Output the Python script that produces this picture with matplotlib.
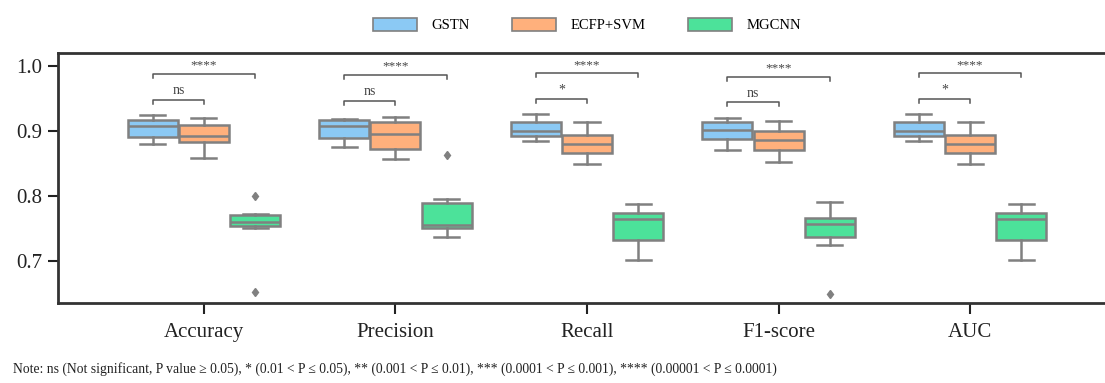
import matplotlib
matplotlib.use("Agg")
import matplotlib.pyplot as plt
from matplotlib.patches import Patch

plt.rcParams['font.family'] = ['Liberation Serif', 'DejaVu Serif']

metrics = ["Accuracy", "Precision", "Recall", "F1-score", "AUC"]
models = ["GSTN", "ECFP+SVM", "MGCNN"]
colors = ["#8BC9F4", "#FFB07C", "#4CE29A"]

# box statistics (one value per metric)
gstn_whislo = [0.880, 0.876, 0.885, 0.872, 0.885]
gstn_q1 = [0.891, 0.890, 0.893, 0.888, 0.893]
gstn_med = [0.908, 0.908, 0.900, 0.902, 0.900]
gstn_q3 = [0.918, 0.917, 0.915, 0.915, 0.915]
gstn_whishi = [0.925, 0.919, 0.926, 0.921, 0.926]
gstn_fliers = [[], [], [], [], []]

ecfp_whislo = [0.859, 0.858, 0.850, 0.853, 0.850]
ecfp_q1 = [0.883, 0.873, 0.867, 0.871, 0.867]
ecfp_med = [0.893, 0.896, 0.880, 0.887, 0.880]
ecfp_q3 = [0.909, 0.915, 0.894, 0.901, 0.894]
ecfp_whishi = [0.921, 0.922, 0.914, 0.916, 0.914]
ecfp_fliers = [[], [], [], [], []]

mgcnn_whislo = [0.751, 0.738, 0.702, 0.725, 0.702]
mgcnn_q1 = [0.754, 0.751, 0.733, 0.738, 0.733]
mgcnn_med = [0.760, 0.756, 0.765, 0.757, 0.765]
mgcnn_q3 = [0.772, 0.789, 0.774, 0.767, 0.774]
mgcnn_whishi = [0.773, 0.796, 0.788, 0.791, 0.788]
mgcnn_fliers = [[0.801, 0.653], [0.863], [], [0.650], []]

# significance annotations
inner_labels = ["ns", "ns", "*", "ns", "*"]
outer_labels = ["****", "****", "****", "****", "****"]
inner_levels = [0.9486, 0.9466, 0.949, 0.9446, 0.949]
outer_levels = [0.988, 0.986, 0.989, 0.984, 0.989]

note = ("Note: ns (Not significant, P value \u2265 0.05), * (0.01 < P \u2264 0.05), "
        "** (0.001 < P \u2264 0.01), *** (0.0001 < P \u2264 0.001), "
        "**** (0.00001 < P \u2264 0.0001)")

W, H = 1105, 383
fig = plt.figure(figsize=(W / 100, H / 100), dpi=100)
ax = fig.add_axes([58 / W, 1 - 302.5 / H, 1058 / W, (302.5 - 53) / H])

series = [
    (gstn_whislo, gstn_q1, gstn_med, gstn_q3, gstn_whishi, gstn_fliers),
    (ecfp_whislo, ecfp_q1, ecfp_med, ecfp_q3, ecfp_whishi, ecfp_fliers),
    (mgcnn_whislo, mgcnn_q1, mgcnn_med, mgcnn_q3, mgcnn_whishi, mgcnn_fliers),
]
bw = 0.8 / 3
edge = "#808080"
for k, (wl, q1, md, q3, wh, fl) in enumerate(series):
    stats = []
    for i in range(len(metrics)):
        stats.append(dict(whislo=wl[i], q1=q1[i], med=md[i], q3=q3[i],
                          whishi=wh[i], fliers=fl[i]))
    pos = [i + (k - 1) * bw for i in range(len(metrics))]
    ax.bxp(stats, positions=pos, widths=bw * 0.98, patch_artist=True,
           showfliers=True, manage_ticks=False,
           boxprops=dict(facecolor=colors[k], edgecolor=edge, linewidth=1.8),
           medianprops=dict(color=edge, linewidth=1.8),
           whiskerprops=dict(color=edge, linewidth=1.8),
           capprops=dict(color=edge, linewidth=1.8),
           flierprops=dict(marker="d", markerfacecolor=edge, markeredgecolor=edge,
                           markersize=4.5, linestyle="none"))

bc = "#555555"
th = 0.006
for i in range(len(metrics)):
    x1, x2, x3 = i - bw, i, i + bw
    y = inner_levels[i]
    ax.plot([x1, x1, x2, x2], [y - th, y, y, y - th], color=bc, lw=1.1)
    ax.text((x1 + x2) / 2, y + 0.004, inner_labels[i], ha="center", va="bottom",
            fontsize=10, color="#444444")
    y = outer_levels[i]
    ax.plot([x1, x1, x3, x3], [y - th, y, y, y - th], color=bc, lw=1.1)
    ax.text((x1 + x3) / 2, y + 0.004, outer_labels[i], ha="center", va="bottom",
            fontsize=9.5, color="#444444")

ax.set_xlim(-0.762, 4.762)
ax.set_ylim(0.6366, 1.0205)
ax.set_xticks(range(len(metrics)))
ax.set_xticklabels(metrics)
ax.set_yticks([0.7, 0.8, 0.9, 1.0])
ax.set_yticklabels(["0.7", "0.8", "0.9", "1.0"])
ax.tick_params(axis="both", labelsize=15, colors="#222222", width=1.5)
ax.tick_params(axis="x", length=8, pad=7)
ax.tick_params(axis="y", length=7.5, pad=4)
for s in ax.spines.values():
    s.set_linewidth(2)
    s.set_color("#333333")

handles = [Patch(facecolor=c, edgecolor=edge, linewidth=1.2) for c in colors]
fig.legend(handles, models, loc="center", bbox_to_anchor=(587 / W, 1 - 25 / H),
           ncol=3, frameon=False, fontsize=10.5, handlelength=3.0,
           handleheight=1.0, handletextpad=1.0, columnspacing=2.9)

fig.text(13 / W, 1 - 373 / H, note, fontsize=9.8, ha="left", va="baseline",
         color="#222222")

fig.savefig("out.png", dpi=100)
